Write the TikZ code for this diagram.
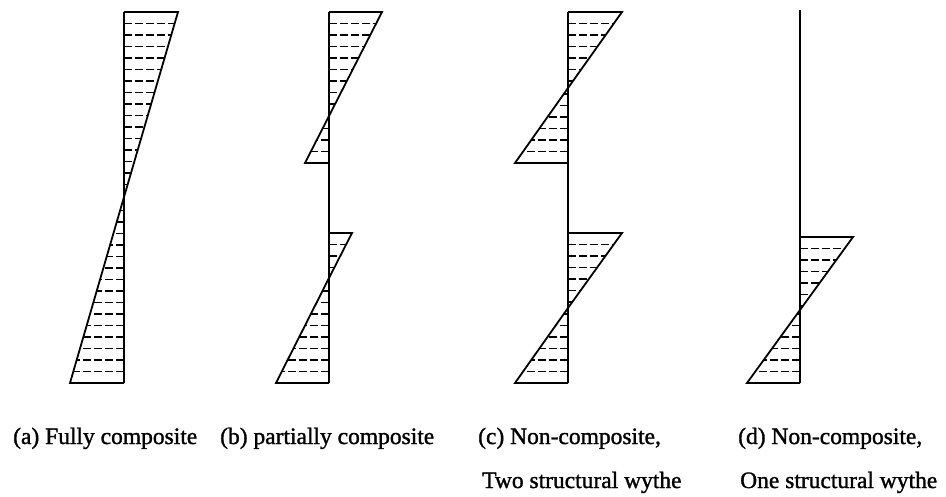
\documentclass[tikz,border=0pt]{standalone}
\usepackage{fontspec}
\setmainfont{Liberation Serif}
\newfontfamily\capfont[FakeBold=1.3]{Liberation Serif}
\usepackage{tikz}
\usetikzlibrary{positioning}

% triangle of the stress block: axis x, apex y, base end x, base y
\newcommand{\stresstri}[4]{%
  \draw[edge] (#1,#2) -- (#3,#4) -- (#1,#4);
  \pgfmathsetmacro{\hdy}{#4-#2}
  \pgfmathtruncatemacro{\nh}{abs(\hdy)/11.5}
  \foreach \k in {1,...,\nh}{
    \pgfmathsetmacro{\yy}{#4-sign(\hdy)*\k*11.5}
    \pgfmathsetmacro{\xx}{#1+(#3-#1)*(\yy-#2)/\hdy}
    \draw[hatch] (#1,\yy) -- (\xx,\yy);
  }%
}

\begin{document}
\begin{tikzpicture}[
  x=1pt, y=-1pt,
  edge/.style={line width=1.8pt, black},
  hatch/.style={line width=1.7pt, black, dash pattern=on 8pt off 3pt},
  captext/.style={anchor=base west, inner sep=0pt, font=\capfont\fontsize{23.5}{28}\selectfont}
]
\useasboundingbox (0,0) rectangle (946,497);

% (a) fully composite
\draw[edge] (124,12) -- (124,383);
\stresstri{124}{197}{178}{12}
\stresstri{124}{197}{70}{383}

% (b) partially composite
\draw[edge] (329,12) -- (329,383);
\stresstri{329}{116}{382}{12}
\stresstri{329}{116}{305}{163}
\stresstri{329}{278}{352}{233}
\stresstri{329}{278}{276}{383}

% (c) two structural wythes
\draw[edge] (568,12) -- (568,383);
\stresstri{568}{88}{622}{12}
\stresstri{568}{88}{515}{163}
\stresstri{568}{308}{622}{233}
\stresstri{568}{308}{515}{383}

% (d) one structural wythe
\draw[edge] (800,10) -- (800,383);
\stresstri{800}{310}{853}{237}
\stresstri{800}{310}{747}{383}

\node[captext] (capa) at (13,444) {(a) Fully composite};
\node[captext] (capb) at (220,444) {(b) partially composite};
\node[captext] (capc) at (478,444) {(c) Non-composite,};
\node[captext] (capc2) at (482,488) {Two structural wythe};
\node[captext] (capd) at (738,444) {(d) Non-composite,};
\node[captext] (capd2) at (740,488) {One structural wythe};
\end{tikzpicture}
\end{document}
